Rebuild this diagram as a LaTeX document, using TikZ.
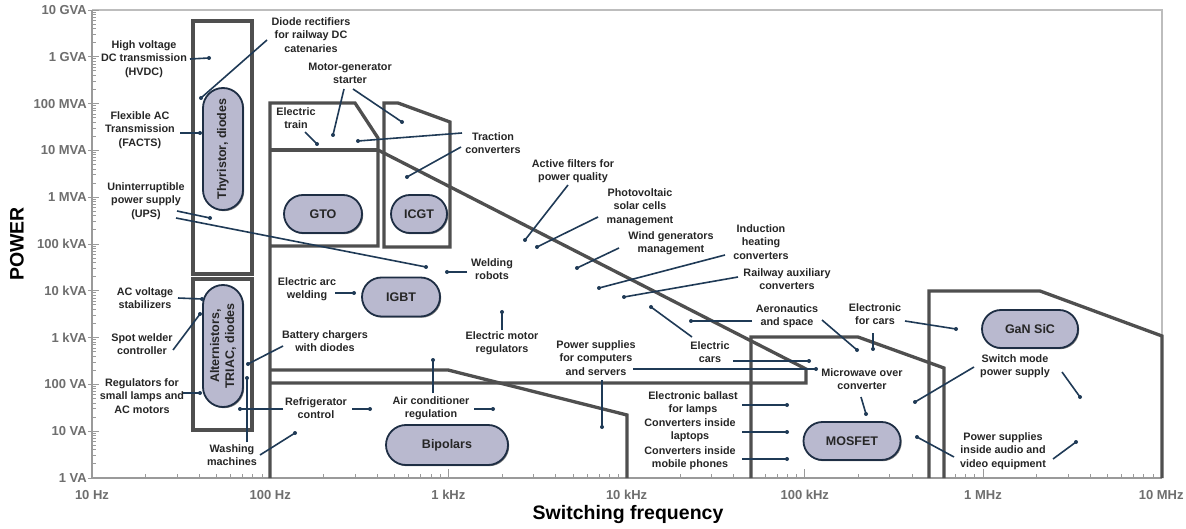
\documentclass[tikz,border=0pt]{standalone}
\usepackage{fontspec}
\setmainfont{Liberation Sans}
\usetikzlibrary{shapes.misc,shadows}

\definecolor{zonec}{HTML}{4F4F4F}
\definecolor{leadc}{HTML}{1F3A56}
\definecolor{pillfill}{HTML}{B9B9CF}
\definecolor{pilledge}{HTML}{1E2E44}
\definecolor{axisc}{HTML}{9A9A9A}
\definecolor{framec}{HTML}{BDBDBD}
\definecolor{ticklab}{HTML}{6E6E6E}
\definecolor{labtext}{HTML}{262626}

\tikzset{
  lab/.style={font=\fontsize{10.8}{13.3}\selectfont\bfseries, text=labtext, align=center, inner sep=1pt},
  leader/.style={draw=leadc, line width=1.6pt},
  dotc/.style={fill=leadc, circle, inner sep=0pt, minimum size=4pt},
  pill/.style={rounded rectangle, draw=pilledge, line width=1.8pt, fill=pillfill,
    font=\fontsize{12.5}{15}\selectfont\bfseries, text=labtext, align=center, inner sep=0pt,
    drop shadow={shadow xshift=1.2pt, shadow yshift=-1.2pt, opacity=.5, fill=black}},
  zone/.style={draw=zonec, line width=3.3pt, line join=miter},
  tickmark/.style={draw=axisc, line width=0.9pt},
  ticklabel/.style={font=\fontsize{13}{15}\selectfont\bfseries, text=ticklab, inner sep=0pt},
  axistitle/.style={font=\fontsize{19.5}{22}\selectfont\bfseries, text=black, inner sep=0pt}
}

% leader from a point offset from a label centre to a dot
\newcommand\ldr[3]{\draw[leader] ([shift={#2}]#1.center) -- (#3.center);}
\newcommand\pdot[2]{\node[dotc] (#1) at (#2) {};}

\begin{document}
\begin{tikzpicture}[x=1pt,y=-1pt]
\useasboundingbox (0,0) rectangle (1186,529);
\fill[white] (0,0) rectangle (1186,529);

% ---------- frame and axes ----------
\draw[framec, line width=1.3pt] (92,10) -- (1162,10) -- (1162,478);
\draw[axisc, line width=1.5pt] (92,10) -- (92,478) -- (1162,478);

% power axis ticks (decade = 46.8)
\foreach \d in {0,...,9}{
  \foreach \k in {2,...,9}{
    \pgfmathsetmacro\yy{478-46.8*(\d+log10(\k))}
    \draw[tickmark] (92,\yy) -- (96,\yy);
  }
}
\foreach \d/\t in {0/1 VA,1/10 VA,2/100 VA,3/1 kVA,4/10 kVA,5/100 kVA,6/1 MVA,7/10 MVA,8/100 MVA,9/1 GVA,10/10 GVA}{
  \pgfmathsetmacro\yy{478-46.8*\d}
  \draw[tickmark] (88,\yy) -- (99,\yy);
  \node[ticklabel, anchor=east] at (87,\yy) {\t};
}

% frequency axis ticks (decade = 178.2)
\foreach \e in {0,...,5}{
  \foreach \k in {2,...,9}{
    \pgfmathsetmacro\xx{92+178.2*(\e+log10(\k))}
    \draw[tickmark] (\xx,478) -- (\xx,474);
  }
}
\foreach \e/\t in {0/10 Hz,1/100 Hz,2/1 kHz,3/10 kHz,4/100 kHz,5/1 MHz,6/10 MHz}{
  \pgfmathsetmacro\xx{92+178.2*\e}
  \draw[tickmark] (\xx,478) -- (\xx,469);
  \node[ticklabel] at (\xx,495) {\t};
}

\node[axistitle, rotate=90] (ptitle) at (17,244) {POWER};
\node[axistitle] (ftitle) at (628,514) {Switching frequency};

% ---------- device zones ----------
\draw[zone] (193,21) rectangle (252,274);
\draw[zone] (193,279) rectangle (252,430);
\draw[zone] (270,478) -- (270,103) -- (355,103) -- (378,138) -- (378,246) -- (270,246);
\draw[zone] (270,150) -- (378,150);
\draw[zone] (384,247) -- (384,103) -- (398,103) -- (450,122) -- (450,247) -- cycle;
\draw[zone] (378,150) -- (806,369) -- (806,383) -- (270,383);
\draw[zone] (270,370) -- (448,370) -- (627,415) -- (627,478);
\draw[zone] (751,478) -- (751,337) -- (858,337) -- (944,368) -- (944,478);
\draw[zone] (929,478) -- (929,291) -- (1040,291) -- (1162,336) -- (1162,478);

% ---------- device pills ----------
\node[pill, rotate=90, minimum width=122pt, minimum height=40pt] (thy) at (223,149) {Thyristor, diodes};
\node[pill, rotate=90, minimum width=122pt, minimum height=40pt] (alt) at (223,346) {Alternistors,\\TRIAC, diodes};
\node[pill, minimum width=78pt, minimum height=38pt] (gto) at (323,214) {GTO};
\node[pill, minimum width=56pt, minimum height=38pt] (icgt) at (419,214) {ICGT};
\node[pill, minimum width=78pt, minimum height=39pt] (igbt) at (401,297) {IGBT};
\node[pill, minimum width=122pt, minimum height=40pt] (bip) at (447,445) {Bipolars};
\node[pill, minimum width=97pt, minimum height=38pt] (mos) at (852,441) {MOSFET};
\node[pill, minimum width=96pt, minimum height=38pt] (gan) at (1030,329) {GaN SiC};

% ---------- application labels ----------
\node[lab] (hvdc) at (144,59) {High voltage\\DC transmission\\(HVDC)};
\node[lab] (facts) at (140,130) {Flexible AC\\Transmission\\(FACTS)};
\node[lab] (diode) at (311,35) {Diode rectifiers\\for railway DC\\catenaries};
\node[lab] (motor) at (350,73) {Motor-generator\\starter};
\node[lab] (train) at (296,118) {Electric\\train};
\node[lab] (traction) at (493,143) {Traction\\converters};
\node[lab] (active) at (573,171) {Active filters for\\power quality};
\node[lab] (pv) at (640,207) {Photovoltaic\\solar cells\\management};
\node[lab] (wind) at (671,243) {Wind generators\\management};
\node[lab] (induct) at (761,242) {Induction\\heating\\converters};
\node[lab] (railaux) at (787,279) {Railway auxiliary\\converters};
\node[lab] (ups) at (146,201) {Uninterruptible\\power supply\\(UPS)};
\node[lab] (weld) at (492,269) {Welding\\robots};
\node[lab] (arc) at (307,289) {Electric arc\\welding};
\node[lab] (motreg) at (502,343) {Electric motor\\regulators};
\node[lab] (battery) at (325,341) {Battery chargers\\with diodes};
\node[lab] (acvolt) at (145,298) {AC voltage\\stabilizers};
\node[lab] (spot) at (142,344) {Spot welder\\controller};
\node[lab] (regul) at (142,396) {Regulators for\\small lamps and\\AC motors};
\node[lab] (washing) at (232,455) {Washing\\machines};
\node[lab] (refrig) at (316,408) {Refrigerator\\control};
\node[lab] (aircon) at (431,408) {Air conditioner\\regulation};
\node[lab] (pscomp) at (596,358) {Power supplies\\for computers\\and servers};
\node[lab] (ecars) at (710,352) {Electric\\cars};
\node[lab] (aero) at (787,316) {Aeronautics\\and space};
\node[lab] (elcars) at (875,314) {Electronic\\for cars};
\node[lab] (micro) at (862,379) {Microwave over\\converter};
\node[lab] (ballast) at (693,403) {Electronic ballast\\for lamps};
\node[lab] (laptops) at (690,430) {Converters inside\\laptops};
\node[lab] (phones) at (690,458) {Converters inside\\mobile phones};
\node[lab] (smps) at (1015,366) {Switch mode\\power supply};
\node[lab] (audio) at (1003,451) {Power supplies\\inside audio and\\video equipment};

% ---------- leader end dots ----------
\pdot{hvdcD}{209,58}
\pdot{factsD}{200,133}
\pdot{diodeD}{201,98}
\pdot{motorD1}{333,135}
\pdot{motorD2}{402,122}
\pdot{trainD}{317,144}
\pdot{tracD1}{358,141}
\pdot{tracD2}{407,177}
\pdot{activeD}{525,240}
\pdot{pvD}{537,247}
\pdot{windD}{577,268}
\pdot{inductD}{599,288}
\pdot{railauxD}{624,297}
\pdot{upsD1}{210,218}
\pdot{upsD2}{426,267}
\pdot{weldD}{447,272}
\pdot{arcD}{354,293}
\pdot{motregD}{502,312}
\pdot{batteryD}{248,364}
\pdot{acvoltD}{202,299}
\pdot{spotD}{200,314}
\pdot{regulD}{200,393}
\pdot{washD1}{247,378}
\pdot{washD2}{295,433}
\pdot{refrigD1}{370,409}
\pdot{refrigD2}{240,409}
\pdot{airconD1}{493,409}
\pdot{airconD2}{433,360}
\pdot{pscompD1}{602,427}
\pdot{pscompD2}{816,369}
\pdot{ecarsD1}{809,361}
\pdot{ecarsD2}{651,307}
\pdot{aeroD1}{691,321}
\pdot{aeroD2}{857,350}
\pdot{elcarsD1}{873,349}
\pdot{elcarsD2}{956,329}
\pdot{microD}{866,414}
\pdot{ballastD}{787,405}
\pdot{laptopsD}{787,432}
\pdot{phonesD}{787,459}
\pdot{smpsD1}{915,402}
\pdot{smpsD2}{1080,397}
\pdot{audioD1}{917,437}
\pdot{audioD2}{1076,442}

% ---------- leaders ----------
\ldr{hvdc}{(46,0)}{hvdcD}
\ldr{facts}{(40,3)}{factsD}
\ldr{diode}{(-44,5)}{diodeD}
\ldr{motor}{(-6,16)}{motorD1}
\ldr{motor}{(3,16)}{motorD2}
\ldr{train}{(9,14)}{trainD}
\ldr{traction}{(-31,-10)}{tracD1}
\ldr{traction}{(-32,4)}{tracD2}
\ldr{active}{(-5,14)}{activeD}
\ldr{pv}{(-42,10)}{pvD}
\ldr{wind}{(-52,5)}{windD}
\ldr{induct}{(-36,13)}{inductD}
\ldr{railaux}{(-49,-2)}{railauxD}
\ldr{ups}{(31,10)}{upsD1}
\ldr{ups}{(30,17)}{upsD2}
\ldr{weld}{(-25,3)}{weldD}
\ldr{arc}{(28,4)}{arcD}
\ldr{motreg}{(0,-13)}{motregD}
\ldr{battery}{(-42,5)}{batteryD}
\ldr{acvolt}{(33,0)}{acvoltD}
\ldr{spot}{(31,6)}{spotD}
\ldr{regul}{(41,-3)}{regulD}
\ldr{washing}{(15,-13)}{washD1}
\ldr{washing}{(28,0)}{washD2}
\ldr{refrig}{(36,1)}{refrigD1}
\ldr{refrig}{(-33,1)}{refrigD2}
\ldr{aircon}{(43,1)}{airconD1}
\ldr{aircon}{(2,-15)}{airconD2}
\ldr{pscomp}{(6,22)}{pscompD1}
\ldr{pscomp}{(37,11)}{pscompD2}
\ldr{ecars}{(23,9)}{ecarsD1}
\ldr{ecars}{(-18,-15)}{ecarsD2}
\ldr{aero}{(-35,5)}{aeroD1}
\ldr{aero}{(35,4)}{aeroD2}
\ldr{elcars}{(-2,19)}{elcarsD1}
\ldr{elcars}{(30,7)}{elcarsD2}
\ldr{micro}{(-1,18)}{microD}
\ldr{ballast}{(49,2)}{ballastD}
\ldr{laptops}{(52,2)}{laptopsD}
\ldr{phones}{(52,1)}{phonesD}
\ldr{smps}{(-41,1)}{smpsD1}
\ldr{smps}{(47,6)}{smpsD2}
\ldr{audio}{(-49,6)}{audioD1}
\ldr{audio}{(50,8)}{audioD2}

\end{tikzpicture}
\end{document}
